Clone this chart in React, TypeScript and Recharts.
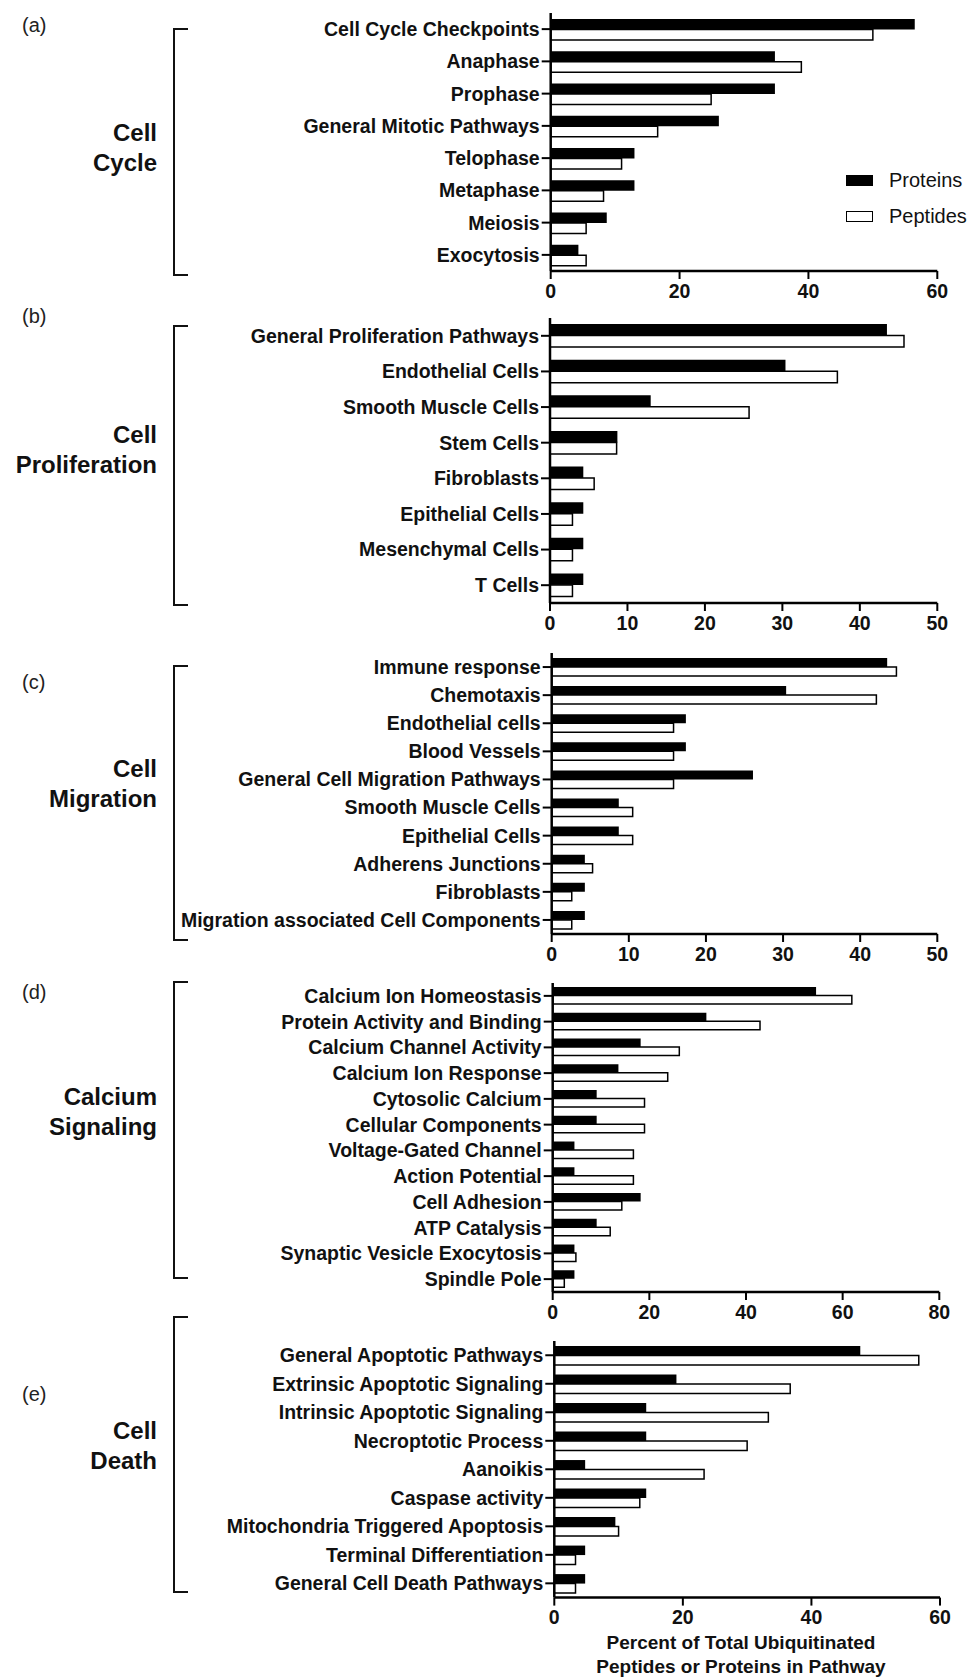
import React from "react"
import { Bar, BarChart, Legend, XAxis, YAxis } from "recharts"

const FONT = '"Liberation Sans", Arial, Helvetica, sans-serif'

// (a) cell cycle
const cycleCats = ["Cell Cycle Checkpoints", "Anaphase", "Prophase", "General Mitotic Pathways", "Telophase", "Metaphase", "Meiosis", "Exocytosis"]
const cycleProteins = [56.5, 34.8, 34.8, 26.1, 13.0, 13.0, 8.7, 4.3]
const cyclePeptides = [50.0, 38.9, 24.9, 16.6, 11.0, 8.2, 5.5, 5.5]

// (b) cell proliferation
const prolifCats = ["General Proliferation Pathways", "Endothelial Cells", "Smooth Muscle Cells", "Stem Cells", "Fibroblasts", "Epithelial Cells", "Mesenchymal Cells", "T Cells"]
const prolifProteins = [43.5, 30.4, 13.0, 8.7, 4.3, 4.3, 4.3, 4.3]
const prolifPeptides = [45.7, 37.1, 25.7, 8.6, 5.7, 2.9, 2.9, 2.9]

// (c) cell migration
const migrationCats = ["Immune response", "Chemotaxis", "Endothelial cells", "Blood Vessels", "General Cell Migration Pathways", "Smooth Muscle Cells", "Epithelial Cells", "Adherens Junctions", "Fibroblasts", "Migration associated Cell Components"]
const migrationProteins = [43.5, 30.4, 17.4, 17.4, 26.1, 8.7, 8.7, 4.3, 4.3, 4.3]
const migrationPeptides = [44.7, 42.1, 15.8, 15.8, 15.8, 10.5, 10.5, 5.3, 2.6, 2.6]

// (d) calcium signaling
const calciumCats = ["Calcium Ion Homeostasis", "Protein Activity and Binding", "Calcium Channel Activity", "Calcium Ion Response", "Cytosolic Calcium", "Cellular Components", "Voltage-Gated Channel", "Action Potential", "Cell Adhesion", "ATP Catalysis", "Synaptic Vesicle Exocytosis", "Spindle Pole"]
const calciumProteins = [54.5, 31.8, 18.2, 13.6, 9.1, 9.1, 4.5, 4.5, 18.2, 9.1, 4.5, 4.5]
const calciumPeptides = [61.9, 42.9, 26.2, 23.8, 19.0, 19.0, 16.7, 16.7, 14.3, 11.9, 4.8, 2.4]

// (e) cell death
const deathCats = ["General Apoptotic Pathways", "Extrinsic Apoptotic Signaling", "Intrinsic Apoptotic Signaling", "Necroptotic Process", "Aanoikis", "Caspase activity", "Mitochondria Triggered Apoptosis", "Terminal Differentiation", "General Cell Death Pathways"]
const deathProteins = [47.6, 19.0, 14.3, 14.3, 4.8, 14.3, 9.5, 4.8, 4.8]
const deathPeptides = [56.7, 36.7, 33.3, 30.0, 23.3, 13.3, 10.0, 3.3, 3.3]

const seriesNames = ["Proteins", "Peptides"]
const ticks60 = [0, 20, 40, 60]
const ticks50 = [0, 10, 20, 30, 40, 50]
const ticks80 = [0, 20, 40, 60, 80]

const build = (cats: string[], prot: number[], pep: number[]) =>
  cats.map((name, i) => ({ name, Proteins: prot[i], Peptides: pep[i] }))

const renderLegend = (props: any) => {
  const items = [...(props.payload || [])].sort(
    (a: any, b: any) => seriesNames.indexOf(a.value) - seriesNames.indexOf(b.value)
  )
  return (
    <div style={{ fontFamily: FONT }}>
      {items.map((it: any) => (
        <div key={it.value} style={{ display: "flex", alignItems: "center", height: 20, marginBottom: 16.5 }}>
          <div style={{ width: 27, height: 11, boxSizing: "border-box", background: it.color, border: "1.5px solid #000" }} />
          <span style={{ marginLeft: 16, fontSize: 20, color: "#111" }}>{it.value}</span>
        </div>
      ))}
    </div>
  )
}

interface PanelProps {
  data: any[]
  max: number
  ticks: number[]
  top: number
  bottom: number
  left: number
  right: number
  barSize: number
  legend?: boolean
}

function Panel({ data, max, ticks, top, bottom, left, right, barSize, legend }: PanelProps) {
  const mt = 6
  const xh = 40
  const chartTop = top - mt
  const h = mt + (bottom - top) + xh
  const axisStyle = { stroke: "#000", strokeWidth: 2.5 }
  const tickFont = { fill: "#111", fontSize: 19.5, fontWeight: 700, fontFamily: FONT }
  return (
    <div style={{ position: "absolute", left: 0, top: chartTop }}>
      <BarChart
        width={971}
        height={h}
        layout="vertical"
        data={data}
        barGap={0}
        barSize={barSize}
        margin={{ top: mt, right: 971 - right, bottom: 0, left: 0 }}
      >
        <XAxis
          type="number"
          domain={[0, max]}
          ticks={ticks}
          height={xh}
          axisLine={axisStyle}
          tickLine={{ stroke: "#000", strokeWidth: 2 }}
          tickSize={8}
          tickMargin={5}
          tick={tickFont}
        />
        <YAxis
          type="category"
          dataKey="name"
          width={left}
          interval={0}
          axisLine={axisStyle}
          tickLine={{ stroke: "#000", strokeWidth: 2 }}
          tickSize={9}
          tickMargin={2}
          tick={tickFont}
        />
        {legend && (
          <Legend
            layout="vertical"
            align="center"
            verticalAlign="middle"
            content={renderLegend}
            wrapperStyle={{ left: 846, top: 170.5 - chartTop, width: 125 }}
          />
        )}
        <Bar dataKey="Proteins" name="Proteins" fill="#000" isAnimationActive={false} />
        <Bar dataKey="Peptides" name="Peptides" fill="#fff" stroke="#000" strokeWidth={1.5} isAnimationActive={false} />
      </BarChart>
    </div>
  )
}

function SideLabel({ lines, mid, letter, letterY, bTop, bBottom }: { lines: string[]; mid: number; letter: string; letterY: number; bTop: number; bBottom: number }) {
  return (
    <>
      <div style={{ position: "absolute", left: 22, top: letterY - 12, fontSize: 20, lineHeight: "24px", fontFamily: FONT, color: "#222" }}>{letter}</div>
      <div style={{ position: "absolute", right: 971 - 157, top: mid - lines.length * 15, textAlign: "right", fontSize: 24, lineHeight: "30px", fontWeight: 700, fontFamily: FONT, color: "#111", whiteSpace: "nowrap" }}>
        {lines.map((l) => (
          <div key={l}>{l}</div>
        ))}
      </div>
      <div style={{ position: "absolute", left: 173, top: bTop, width: 15, height: bBottom - bTop, boxSizing: "border-box", borderLeft: "2.5px solid #111", borderTop: "2.5px solid #111", borderBottom: "2.5px solid #111" }} />
    </>
  )
}

export default function App() {
  return (
    <div style={{ position: "absolute", left: 0, top: 0, width: 971, height: 1678, background: "#fff", overflow: "hidden" }}>
      <SideLabel lines={["Cell", "Cycle"]} mid={148} letter="(a)" letterY={25} bTop={28} bBottom={276} />
      <SideLabel lines={["Cell", "Proliferation"]} mid={450} letter="(b)" letterY={316} bTop={325} bBottom={606} />
      <SideLabel lines={["Cell", "Migration"]} mid={784} letter="(c)" letterY={682} bTop={665} bBottom={941} />
      <SideLabel lines={["Calcium", "Signaling"]} mid={1112} letter="(d)" letterY={992} bTop={981} bBottom={1279} />
      <SideLabel lines={["Cell", "Death"]} mid={1446} letter="(e)" letterY={1394} bTop={1316} bBottom={1593} />

      <Panel data={build(cycleCats, cycleProteins, cyclePeptides)} max={60} ticks={ticks60} top={12.7} bottom={270.7} left={550.7} right={937.3} barSize={10.5} legend />
      <Panel data={build(prolifCats, prolifProteins, prolifPeptides)} max={50} ticks={ticks50} top={318.3} bottom={603.3} left={550} right={937.3} barSize={11.5} />
      <Panel data={build(migrationCats, migrationProteins, migrationPeptides)} max={50} ticks={ticks50} top={653.3} bottom={934.3} left={551.7} right={937.3} barSize={9} />
      <Panel data={build(calciumCats, calciumProteins, calciumPeptides)} max={80} ticks={ticks80} top={982.7} bottom={1291.7} left={552.7} right={939.3} barSize={8.5} />
      <Panel data={build(deathCats, deathProteins, deathPeptides)} max={60} ticks={ticks60} top={1340.7} bottom={1597.3} left={554.3} right={940} barSize={9.5} />

      <div style={{ position: "absolute", left: 541, width: 400, top: 1631, textAlign: "center", fontSize: 19, lineHeight: "23.7px", fontWeight: 700, fontFamily: FONT, color: "#111" }}>
        <div>Percent of Total Ubiquitinated</div>
        <div>Peptides or Proteins in Pathway</div>
      </div>
    </div>
  )
}
